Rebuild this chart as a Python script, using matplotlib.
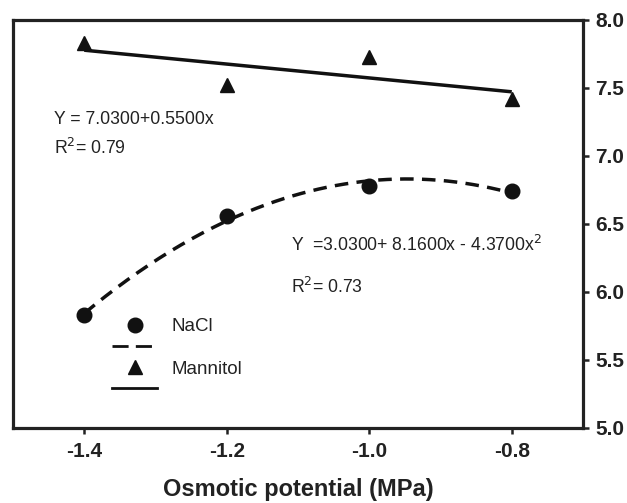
import numpy as np
import matplotlib
matplotlib.use("Agg")
import matplotlib.pyplot as plt
from matplotlib.lines import Line2D

plt.rcParams['font.family'] = ['Liberation Sans', 'DejaVu Sans']

x_vals = [-1.4, -1.2, -1.0, -0.8]
nacl = [5.83, 6.56, 6.78, 6.74]
mannitol = [7.83, 7.52, 7.73, 7.42]
x_ticks = [-1.4, -1.2, -1.0, -0.8]
x_ticklabels = ['-1.4', '-1.2', '-1.0', '-0.8']
y_ticks = [5.0, 5.5, 6.0, 6.5, 7.0, 7.5, 8.0]
y_ticklabels = ['5.0', '5.5', '6.0', '6.5', '7.0', '7.5', '8.0']

fig = plt.figure(figsize=(6.27, 5.03), dpi=100)
ax = fig.add_axes([13/627, 75/503, 570/627, 408/503])

xs = np.linspace(min(x_vals), max(x_vals), 200)
pq = np.polyfit(x_vals, nacl, 2)
pl = np.polyfit(x_vals, mannitol, 1)

ax.plot(xs, np.polyval(pq, xs), color='#111111', lw=2.5, linestyle=(0, (3.9, 2.4)),
        dash_capstyle='butt')
ax.plot(xs, np.polyval(pl, xs), color='#111111', lw=2.5, solid_capstyle='butt')
ax.plot(x_vals, nacl, 'o', color='#111111', ms=10.5, zorder=3)
ax.plot(x_vals, mannitol, '^', color='#111111', ms=10.5, zorder=3)

ax.set_xlim(-1.5, -0.7)
ax.set_ylim(5.0, 8.0)
ax.set_xticks(x_ticks)
ax.set_xticklabels(x_ticklabels)
ax.set_yticks(y_ticks)
ax.set_yticklabels(y_ticklabels)
ax.yaxis.tick_right()
ax.tick_params(axis='both', direction='out', length=4, width=1.8, labelsize=15,
               color='#222222', labelcolor='#222222')
ax.tick_params(axis='x', pad=6)
ax.tick_params(axis='y', pad=5)
for lab in ax.get_xticklabels() + ax.get_yticklabels():
    lab.set_fontweight('bold')
for sp in ax.spines.values():
    sp.set_linewidth(2.3)
    sp.set_color('#222222')

ax.set_xlabel('Osmotic potential (MPa)', fontsize=17, fontweight='bold',
              color='#222222', labelpad=12)

tc = '#222222'
fig.text(54/627, 1 - 120/503, 'Y = 7.0300+0.5500x', fontsize=12.7, color=tc, va='center')
fig.text(54/627, 1 - 148/503, r'R$^{2}$= 0.79', fontsize=12.7, color=tc, va='center')
fig.text(291/627, 1 - 245/503, r'Y  =3.0300+ 8.1600x - 4.3700x$^{2}$', fontsize=12.7,
         color=tc, va='center')
fig.text(291/627, 1 - 287/503, r'R$^{2}$= 0.73', fontsize=12.7, color=tc, va='center')

handles = [
    Line2D([], [], marker='o', color='#111111', ls='none', ms=10.5),
    Line2D([], [], color='#111111', lw=2.0, linestyle=(0, (5.8, 2.6))),
    Line2D([], [], marker='^', color='#111111', ls='none', ms=10.5),
    Line2D([], [], color='#111111', lw=2.0),
]
labels = ['NaCl', ' ', 'Mannitol', ' ']
leg = ax.legend(handles, labels, loc='upper left',
                bbox_to_anchor=((112 - 13) / 570, (428 - 318) / 408),
                frameon=False, fontsize=13.5, handlelength=2.4, handletextpad=0.75,
                labelspacing=0.22, borderaxespad=0, borderpad=0)
for t in leg.get_texts():
    t.set_color(tc)

fig.savefig('out.png', dpi=100)
